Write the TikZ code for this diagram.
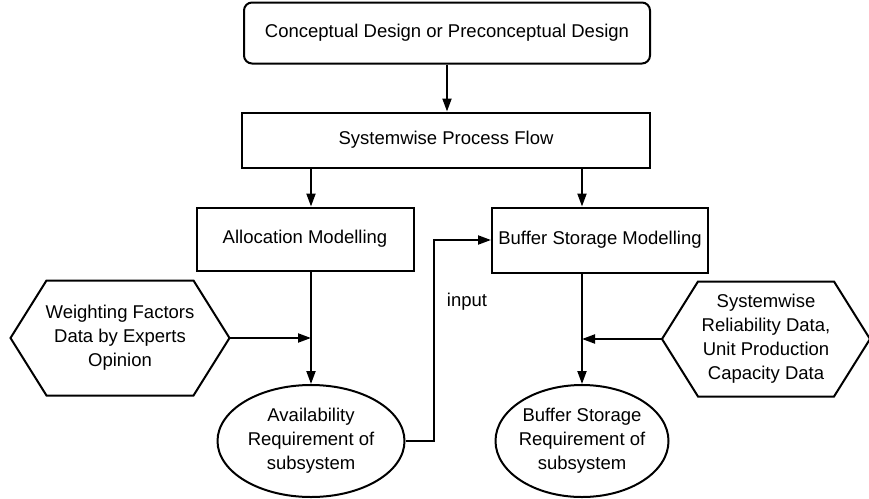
\documentclass[tikz,border=0pt]{standalone}
\usepackage{fontspec}
\setmainfont{Liberation Sans}
\usetikzlibrary{shapes.geometric,arrows.meta}
\begin{document}
\begin{tikzpicture}[x=1pt,y=-1pt,line width=2pt,>={Triangle[length=13pt,width=9pt]},
  font=\fontsize{18.5}{24}\selectfont,
  box/.style={draw, align=center, inner sep=0pt},
  hexa/.style={align=center, inner sep=0pt, minimum height=113pt},
  oval/.style={draw, ellipse, align=center, inner sep=-4pt, minimum height=112pt}]
\useasboundingbox (0,0) rectangle (869,498);
\node[box, rounded corners=8pt, minimum width=406pt, minimum height=61pt] (cd) at (447,33) {Conceptual Design or Preconceptual Design};
\node[box, minimum width=408pt, minimum height=55pt] (pf) at (446,140) {Systemwise Process Flow};
\node[box, minimum width=217pt, minimum height=63pt] (am) at (305,239) {Allocation Modelling};
\node[box, minimum width=216pt, minimum height=65pt] (bm) at (600,240) {Buffer Storage Modelling};

\node[hexa, minimum width=217pt] (wf) at (120,338) {Weighting Factors\\Data by Experts\\Opinion};
\node[hexa, minimum width=206pt] (rd) at (766,339) {Systemwise\\Reliability Data,\\Unit Production\\Capacity Data};
% hexagon outlines
\foreach \h in {wf,rd}
  \draw (\h.west) -- ([xshift=36pt]\h.north west) -- ([xshift=-36pt]\h.north east)
    -- (\h.east) -- ([xshift=-36pt]\h.south east) -- ([xshift=36pt]\h.south west) -- cycle;

\node[oval, minimum width=187pt] (ar) at (311,441) {Availability\\Requirement of\\subsystem};
\node[oval, minimum width=173pt] (br) at (582,441) {Buffer Storage\\Requirement of\\subsystem};

\node (in) at (467,302) {input};

\draw[->] (cd.south) -- (cd.south |- pf.north);
\draw[->] (pf.south -| ar.north) -- (am.north -| ar.north);
\draw[->] (pf.south -| br.north) -- (bm.north -| br.north);
\draw[->] (am.south -| ar.north) -- (ar.north);
\draw[->] (bm.south -| br.north) -- (br.north);
\draw[->] (wf.east) -- (wf.east -| ar.north);
\draw[->] (rd.west) -- (rd.west -| br.north);
\draw[->] (ar.east) -- ++(28,0) |- (bm.west);
\end{tikzpicture}
\end{document}
